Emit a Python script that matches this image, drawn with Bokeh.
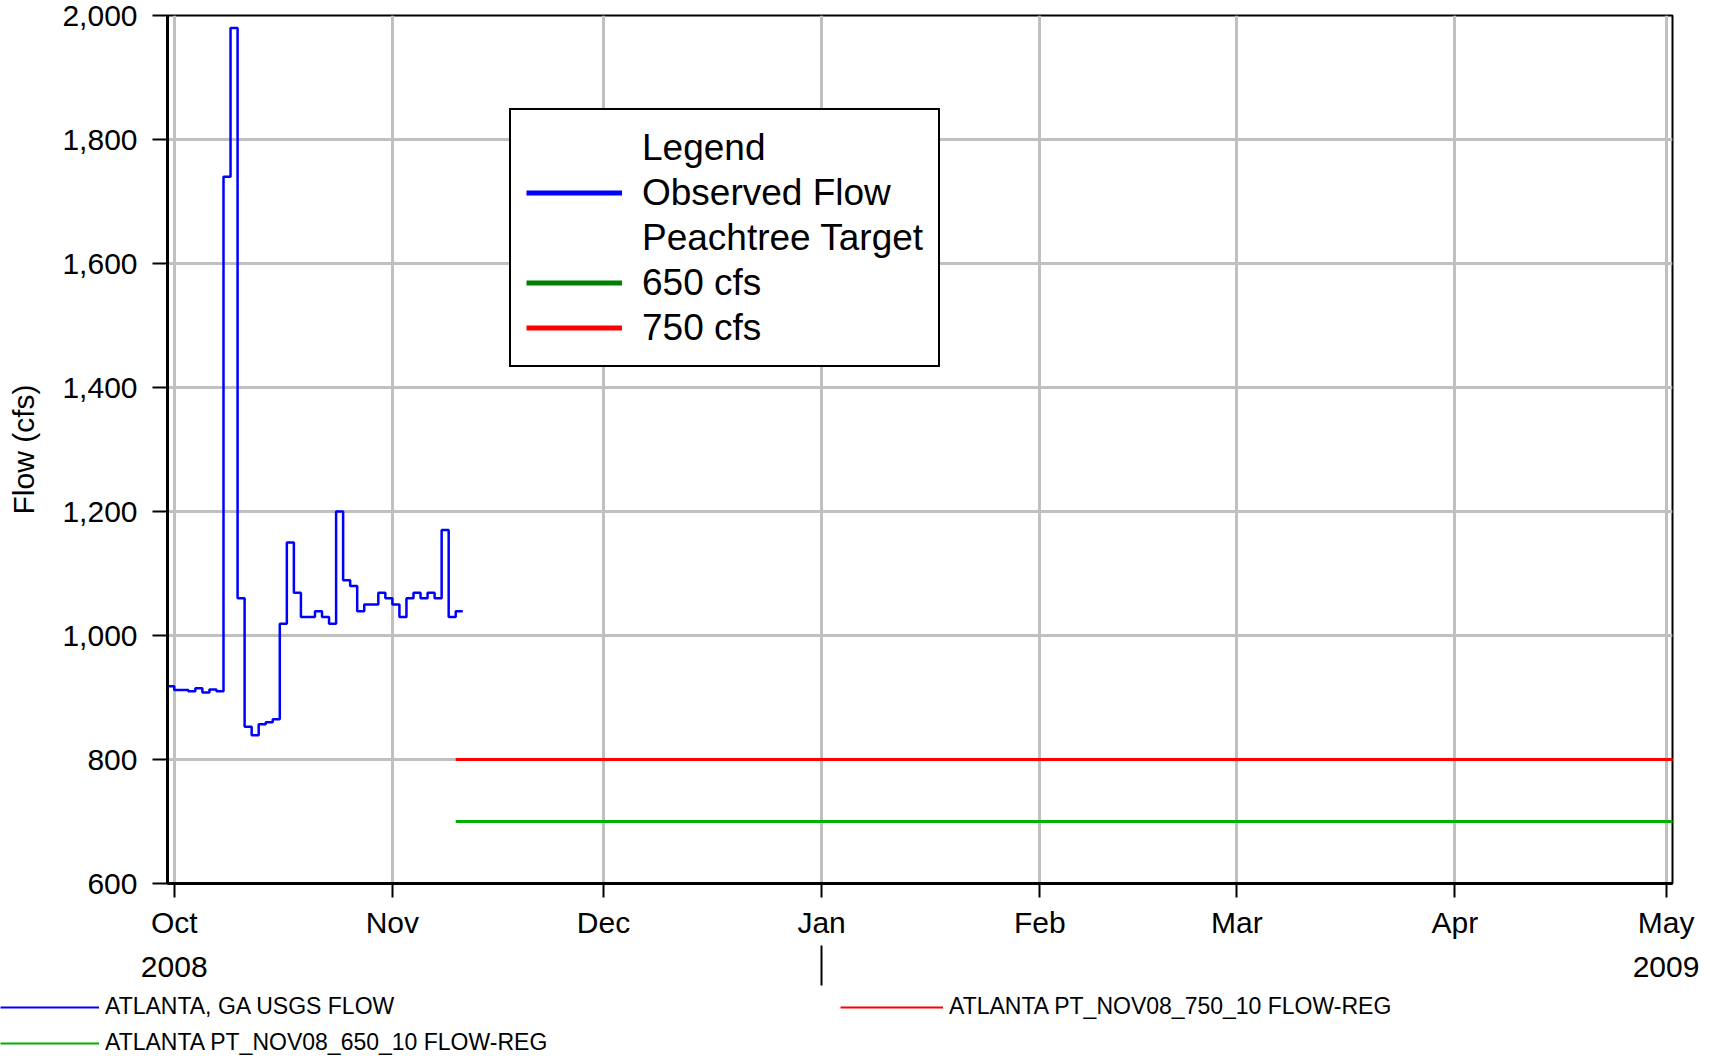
import numpy as np
import pandas as pd
from bokeh.plotting import figure
from bokeh.layouts import column
from bokeh.models import (Range1d, MonthsTicker, DatetimeTickFormatter, NumeralTickFormatter,
                          FixedTicker, Legend, LegendItem, DatetimeAxis)
from bokeh.embed import file_html
from bokeh.resources import INLINE
from bokeh.core.properties import value

# ---------------- data ----------------
flow_start = "2008-09-30"
observed_flow = [918, 912, 912, 910, 915, 908, 913, 910, 1740, 1980,
                 1060, 853, 839, 857, 860, 865, 1019, 1150, 1069, 1030,
                 1030, 1039, 1030, 1019, 1200, 1089, 1080, 1039, 1050, 1050,
                 1069, 1060, 1050, 1030, 1060, 1069, 1060, 1069, 1060, 1170,
                 1030, 1039]
target_dates = ["2008-11-10", "2009-05-31"]
target_650 = [700, 700]
target_750 = [800, 800]
y_ticks = [600, 800, 1000, 1200, 1400, 1600, 1800, 2000]
year_label_dates = ["2008-10-01", "2009-05-01"]
year_break_date = "2009-01-01"
series_names = ["ATLANTA, GA USGS FLOW", "ATLANTA PT_NOV08_650_10 FLOW-REG",
                "ATLANTA PT_NOV08_750_10 FLOW-REG"]
legend_labels = ["Legend", "Observed Flow", "Peachtree Target", "650 cfs", "750 cfs"]

FONT = "Liberation Sans"
BLUE, GREEN, DKGREEN, RED = "#0000ff", "#00b000", "#008000", "#ff0000"

flow_dates = pd.date_range(flow_start, periods=len(observed_flow) + 1, freq="D")
flow_y = observed_flow + [observed_flow[-1]]
t_dates = pd.to_datetime(target_dates)

def ms(d):
    return pd.Timestamp(d).value / 1e6

W = 1704
p = figure(width=W, height=993, x_axis_type="datetime",
           output_backend="svg", toolbar_location=None,
           x_range=Range1d(pd.Timestamp("2008-09-30 01:00"), pd.Timestamp("2009-05-01 22:00")),
           y_range=Range1d(600, 2000),
           min_border_left=167, min_border_right=32, min_border_top=15, min_border_bottom=110)

p.outline_line_color = "black"
p.outline_line_width = 2
p.outline_line_alpha = 1.0
p.background_fill_color = "white"

# axes
mt = MonthsTicker(months=list(range(12)))
p.xaxis.ticker = mt
p.xgrid.ticker = mt
p.xaxis.formatter = DatetimeTickFormatter(months="%b", days="%b", hours="%b", years="%b")
yt = FixedTicker(ticks=y_ticks)
p.yaxis.ticker = yt
p.ygrid.ticker = yt
p.yaxis.formatter = NumeralTickFormatter(format="0,0")

for ax, tout, stand in ((p.xaxis, 14, 8), (p.yaxis, 15, 15)):
    ax.axis_line_color = "black"
    ax.axis_line_width = 3
    ax.major_tick_out = tout
    ax.major_tick_in = 0
    ax.minor_tick_out = 0
    ax.minor_tick_in = 0
    ax.major_tick_line_width = 2
    ax.major_tick_line_color = "black"
    ax.major_label_standoff = stand
    ax.major_label_text_font = FONT
    ax.major_label_text_font_size = "30px"
    ax.major_label_text_color = "black"

p.yaxis.axis_label = "Flow (cfs)"
p.yaxis.axis_label_standoff = 19
p.yaxis.axis_label_text_font = FONT
p.yaxis.axis_label_text_font_size = "30px"
p.yaxis.axis_label_text_font_style = "normal"
p.yaxis.axis_label_text_color = "black"

for g in (p.xgrid, p.ygrid):
    g.grid_line_color = "#c0c0c0"
    g.grid_line_width = 3
    g.grid_line_alpha = 1.0

# year axis: year labels at the ends, year-break mark at Jan 1
year_axis = DatetimeAxis(
    ticker=FixedTicker(ticks=[ms(d) for d in year_label_dates], minor_ticks=[ms(year_break_date)]),
    formatter=DatetimeTickFormatter(years="%Y", months="%Y", days="%Y", hours="%Y"),
    axis_line_alpha=0, major_tick_line_alpha=0, major_tick_out=0, major_tick_in=0,
    minor_tick_line_color="black", minor_tick_line_width=2, minor_tick_out=44, minor_tick_in=-4,
    major_label_standoff=-29, major_label_text_font=FONT, major_label_text_font_size="30px",
    major_label_text_color="black")
p.add_layout(year_axis, "below")

# series
blue = p.step(flow_dates, flow_y, mode="after", line_color=BLUE, line_width=2.5)
green = p.line(t_dates, target_650, line_color=GREEN, line_width=3)
red = p.line(t_dates, target_750, line_color=RED, line_width=3)

# legend-box renderers (no visible data; only their legend swatches show)
nan = [np.nan]
d_title = p.line(x=nan, y=nan, line_alpha=0)
d_obs = p.line(x=nan, y=nan, line_color=BLUE, line_width=5)
d_pt = p.line(x=nan, y=nan, line_alpha=0)
d_650 = p.line(x=nan, y=nan, line_color=DKGREEN, line_width=5)
d_750 = p.line(x=nan, y=nan, line_color=RED, line_width=5)

box_legend = Legend(
    items=[LegendItem(label=value(lbl), renderers=[r])
           for lbl, r in zip(legend_labels, [d_title, d_obs, d_pt, d_650, d_750])],
    location=(342, 516), orientation="vertical", padding=15, spacing=0, margin=0,
    label_height=45, glyph_height=45, glyph_width=96, label_standoff=20,
    label_text_font=FONT, label_text_font_size="37px", label_text_color="black",
    border_line_color="black", border_line_width=2, border_line_alpha=1.0,
    background_fill_color="white", background_fill_alpha=1.0)
p.add_layout(box_legend, "center")

# ---------- series key strip under the chart ----------
k = figure(width=W, height=1056 - 993, output_backend="svg", toolbar_location=None,
           x_axis_type=None, y_axis_type=None, x_range=Range1d(0, 1), y_range=Range1d(0, 1),
           min_border=0, min_border_left=0, min_border_right=0, min_border_top=0, min_border_bottom=0)
k.outline_line_color = None
k.grid.visible = False
k_blue = k.line(x=nan, y=nan, line_color=BLUE, line_width=2)
k_green = k.line(x=nan, y=nan, line_color=GREEN, line_width=2)
k_red = k.line(x=nan, y=nan, line_color=RED, line_width=2)

# keep each plot's frame independent inside the column
p.frame_align = False
k.frame_align = False

key_common = dict(orientation="vertical", padding=0, spacing=0, margin=0,
                  label_height=36, glyph_height=36, label_standoff=6,
                  label_text_font=FONT, label_text_font_size="23px", label_text_color="black",
                  border_line_alpha=0, background_fill_alpha=0)
key1 = Legend(items=[LegendItem(label=value(series_names[0]), renderers=[k_blue]),
                     LegendItem(label=value(series_names[1]), renderers=[k_green])],
              location=(0, -4.5), glyph_width=99, **key_common)
key2 = Legend(items=[LegendItem(label=value(series_names[2]), renderers=[k_red])],
              location=(840, 31.5), glyph_width=103, **key_common)
k.add_layout(key1, "center")
k.add_layout(key2, "center")

layout = column(p, k, spacing=0)
open("out.html", "w").write(file_html(layout, INLINE))
